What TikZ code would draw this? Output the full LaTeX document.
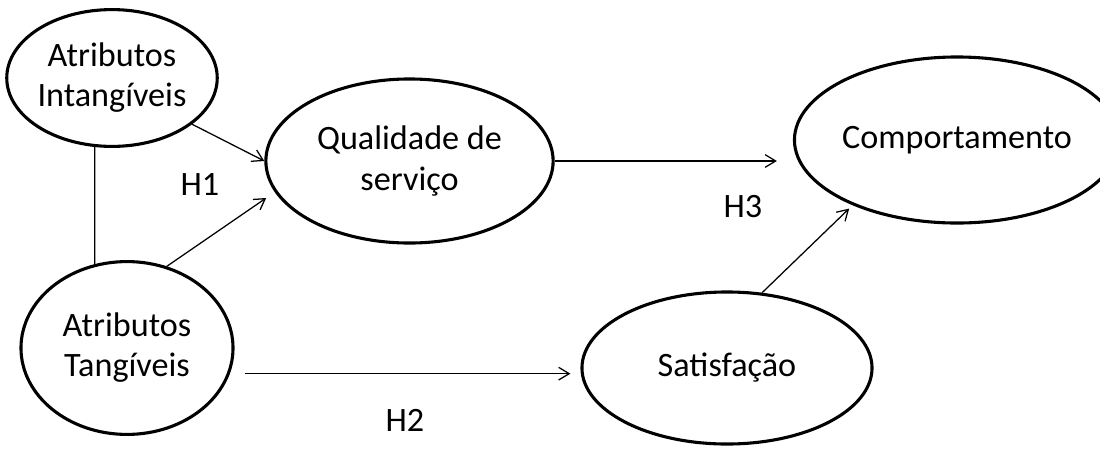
\documentclass[tikz,border=0pt]{standalone}
\usepackage{fontspec}
\setmainfont{Carlito}
\usetikzlibrary{arrows.meta,shapes.geometric}
\begin{document}
\begin{tikzpicture}[x=0.025cm,y=-0.025cm,
  lat/.style={draw, ellipse, line width=2.2pt, inner sep=0pt, align=center,
    font=\fontsize{24.3}{28.5}\selectfont},
  conn/.style={line width=0.9pt, -{Straight Barb[length=7.5pt,width=9pt]}},
  link/.style={line width=0.9pt},
  hyp/.style={font=\fontsize{24.3}{28.5}\selectfont, inner sep=0pt}]
\useasboundingbox (0,0) rectangle (1100,455);

\node[lat, minimum width=5.15cm, minimum height=3.42cm] (intang) at (112,78) {Atributos\\Intang\'iveis};
\node[lat, minimum width=5.3cm, minimum height=4.32cm] (tang) at (127,348) {Atributos\\Tang\'iveis};
\node[lat, minimum width=7.18cm, minimum height=4.1cm] (qual) at (409.5,161) {Qualidade de\\servi\c{c}o};
\node[lat, minimum width=7.05cm, minimum height=4.15cm] (comp) at (957,140) {Comportamento};
\node[lat, minimum width=7.25cm, minimum height=3.8cm] (sat) at (727,368) {Satisfa\c{c}\~ao};

\draw[link] (intang.256) -- (tang.111);
\draw[conn] (intang.-30) -- (qual.west);
\draw[conn, shorten >=0.26cm] (tang.64) -- (qual.193);
\draw[conn, shorten <=0.365cm, shorten >=0.25cm] (tang.-14) -- (tang.-14 -| sat.west);
\draw[conn, shorten >=0.4cm] (qual.east) -- (qual.east -| comp.west);
\draw[conn, shorten >=0.12cm] (sat.65) -- (comp.212);

\node[hyp] (h1) at (200,185) {H1};
\node[hyp] (h2) at (405,420) {H2};
\node[hyp] (h3) at (743,207) {H3};
\end{tikzpicture}
\end{document}
